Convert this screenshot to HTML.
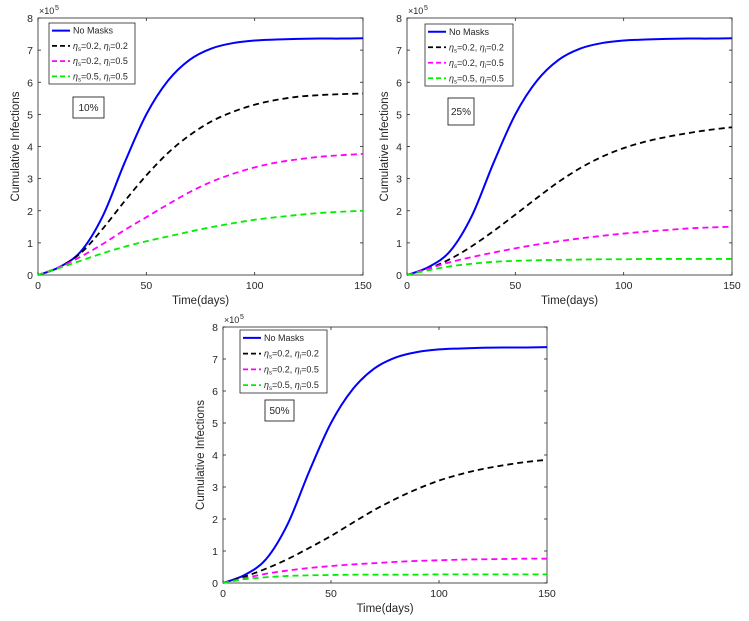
<!DOCTYPE html>
<html><head><meta charset="utf-8"><style>
body{margin:0;background:#fff;}
svg{display:block;font-family:"Liberation Sans",Arial,sans-serif;}
</style></head><body>
<svg id="c" width="749" height="621" viewBox="0 0 749 621" xmlns="http://www.w3.org/2000/svg"></svg>
<script>
const days=[0,10,20,30,40,50,60,70,80,90,100,110,120,130,140,150];
const yTicks=[0,1,2,3,4,5,6,7,8];
const xTicks=[0,50,100,150];
const noMasks=[0,0.25,0.75,1.85,3.5,5.0,6.05,6.7,7.05,7.22,7.3,7.33,7.35,7.36,7.36,7.37];
const p10Black=[0,0.25,0.7,1.45,2.3,3.1,3.8,4.35,4.78,5.08,5.3,5.45,5.55,5.6,5.63,5.65];
const p10Magenta=[0,0.25,0.58,0.97,1.4,1.8,2.2,2.58,2.9,3.15,3.35,3.5,3.6,3.68,3.73,3.77];
const p10Green=[0,0.22,0.45,0.68,0.88,1.05,1.2,1.35,1.49,1.61,1.72,1.8,1.87,1.93,1.97,2.0];
const p25Black=[0,0.2,0.5,0.9,1.37,1.88,2.4,2.9,3.33,3.68,3.95,4.15,4.3,4.42,4.52,4.6];
const p25Magenta=[0,0.2,0.4,0.56,0.7,0.83,0.95,1.05,1.14,1.22,1.29,1.35,1.4,1.45,1.48,1.5];
const p25Green=[0,0.15,0.27,0.35,0.41,0.44,0.46,0.47,0.48,0.49,0.49,0.5,0.5,0.5,0.5,0.5];
const p50Black=[0,0.2,0.45,0.75,1.1,1.47,1.88,2.28,2.63,2.94,3.2,3.4,3.56,3.68,3.78,3.85];
const p50Magenta=[0,0.15,0.29,0.39,0.47,0.53,0.58,0.62,0.66,0.69,0.71,0.73,0.74,0.75,0.76,0.76];
const p50Green=[0,0.12,0.18,0.22,0.24,0.25,0.26,0.26,0.26,0.26,0.27,0.27,0.27,0.27,0.27,0.27];
const labels=["10%","25%","50%"];

const NS="http://www.w3.org/2000/svg";
const svg=document.getElementById('c');
function mk(tag,attrs,parent){const e=document.createElementNS(NS,tag);for(const k in attrs)e.setAttribute(k,attrs[k]);(parent||svg).appendChild(e);return e;}
function txt(s,x,y,attrs,parent){const t=mk('text',Object.assign({x:x,y:y,'font-size':11,fill:'#262626'},attrs||{}),parent);t.textContent=s;return t;}

const panels=[
 {x0:38,x1:363,y0:275,y1:18,name:'panel-10',series:[p10Black,p10Magenta,p10Green],leg:[49,23,86,61],box:[73,97,31,21]},
 {x0:407,x1:732,y0:275,y1:18,name:'panel-25',series:[p25Black,p25Magenta,p25Green],leg:[425,24,88,62],box:[448,98,26,27]},
 {x0:223,x1:547,y0:583,y1:327,name:'panel-50',series:[p50Black,p50Magenta,p50Green],leg:[240,330,87,63],box:[265,400,29,21]}
];
const colors=['#000000','#ff00ff','#00ee00'];
const names=['eta-02-02','eta-02-05','eta-05-05'];

function path(xs,ys,sx,sy){
 const P=xs.map((d,i)=>[sx(d),sy(ys[i])]);
 let d='M'+P[0][0]+','+P[0][1];
 for(let i=0;i<P.length-1;i++){
  const p0=P[Math.max(i-1,0)],p1=P[i],p2=P[i+1],p3=P[Math.min(i+2,P.length-1)];
  const c1=[p1[0]+(p2[0]-p0[0])/6,p1[1]+(p2[1]-p0[1])/6];
  const c2=[p2[0]-(p3[0]-p1[0])/6,p2[1]-(p3[1]-p1[1])/6];
  d+=' C'+c1[0]+','+c1[1]+' '+c2[0]+','+c2[1]+' '+p2[0]+','+p2[1];
 }
 return d;
}

panels.forEach((p,pi)=>{
 const g=mk('g',{});
 
 
 const sx=d=>p.x0+(d-0)/150*(p.x1-p.x0);
 const sy=v=>p.y0+(v/8)*(p.y1-p.y0);
 const ax=mk('rect',{x:p.x0,y:p.y1,width:p.x1-p.x0,height:p.y0-p.y1,fill:'#fff',stroke:'#262626','stroke-width':0.8},g);
 
 
 yTicks.forEach(v=>{
  const y=sy(v);
  mk('line',{x1:p.x0,x2:p.x0+3,y1:y,y2:y,stroke:'#262626','stroke-width':0.8},g);
  mk('line',{x1:p.x1,x2:p.x1-3,y1:y,y2:y,stroke:'#262626','stroke-width':0.8},g);
  const t=txt(String(v),p.x0-5,y+4,{'text-anchor':'end','font-size':10.5},g);
  
  
 });
 xTicks.forEach(v=>{
  const x=sx(v);
  mk('line',{x1:x,x2:x,y1:p.y0,y2:p.y0-3,stroke:'#262626','stroke-width':0.8},g);
  mk('line',{x1:x,x2:x,y1:p.y1,y2:p.y1+3,stroke:'#262626','stroke-width':0.8},g);
  const t=txt(String(v),x,p.y0+14,{'text-anchor':'middle','font-size':10.5},g);
  
  
 });
 const ex=txt('×10',p.x0+1,p.y1-4,{'font-size':9},g);
 
 
 txt('5',p.x0+17,p.y1-8,{'font-size':7},g);
 const xt=txt('Time(days)',(p.x0+p.x1)/2,p.y0+29,{'text-anchor':'middle','font-size':11.5},g);
 
 
 const ym=(p.y0+p.y1)/2;
 const yt=txt('Cumulative Infections',p.x0-19,ym,{'text-anchor':'middle','font-size':11.5,transform:'rotate(-90 '+(p.x0-19)+' '+ym+')'},g);
 
 
 const all=[noMasks].concat(p.series);
 const cols=['#0000ff'].concat(colors);
 const snames=['no-masks'].concat(names);
 all.forEach((s,i)=>{
  const l=mk('path',{d:path(days,s,sx,sy),fill:'none',stroke:cols[i],'stroke-width':i===0?2:1.8,'stroke-dasharray':i===0?'none':'6,4'},g);
  
  
 });
 const [lx,ly,lw,lh]=p.leg;
 const lg=mk('g',{},g);
 
 
 mk('rect',{x:lx,y:ly,width:lw,height:lh,fill:'#fff',stroke:'#262626','stroke-width':0.8},lg);
 const rowH=lh/4;
 const legText=[null,['0.2','0.2'],['0.2','0.5'],['0.5','0.5']];
 all.forEach((s,i)=>{
  const yy=ly+rowH*(i+0.5);
  mk('line',{x1:lx+3,x2:lx+21,y1:yy,y2:yy,stroke:cols[i],'stroke-width':i===0?2:1.8,'stroke-dasharray':i===0?'none':'5,3'},lg);
  let t;
  if(i===0){t=txt('No Masks',lx+24,yy+3,{'font-size':9},lg);}
  else{
   t=mk('text',{x:lx+24,y:yy+3,'font-size':9,fill:'#262626'},lg);
   t.innerHTML='<tspan font-style="italic">η</tspan><tspan font-size="6" dy="2">s</tspan><tspan dy="-2">=' + legText[i][0] + ', </tspan><tspan font-style="italic">η</tspan><tspan font-size="6" dy="2">i</tspan><tspan dy="-2">=' + legText[i][1] + '</tspan>';
  }
  
  
 });
 const [bx,by,bw,bh]=p.box;
 const br=mk('rect',{x:bx,y:by,width:bw,height:bh,fill:'#fff',stroke:'#262626','stroke-width':0.9},g);
 
 
 const bt=txt(labels[pi],bx+bw/2,by+bh/2+3.5,{'text-anchor':'middle','font-size':10},g);
 
 
});
</script>
</body></html>
